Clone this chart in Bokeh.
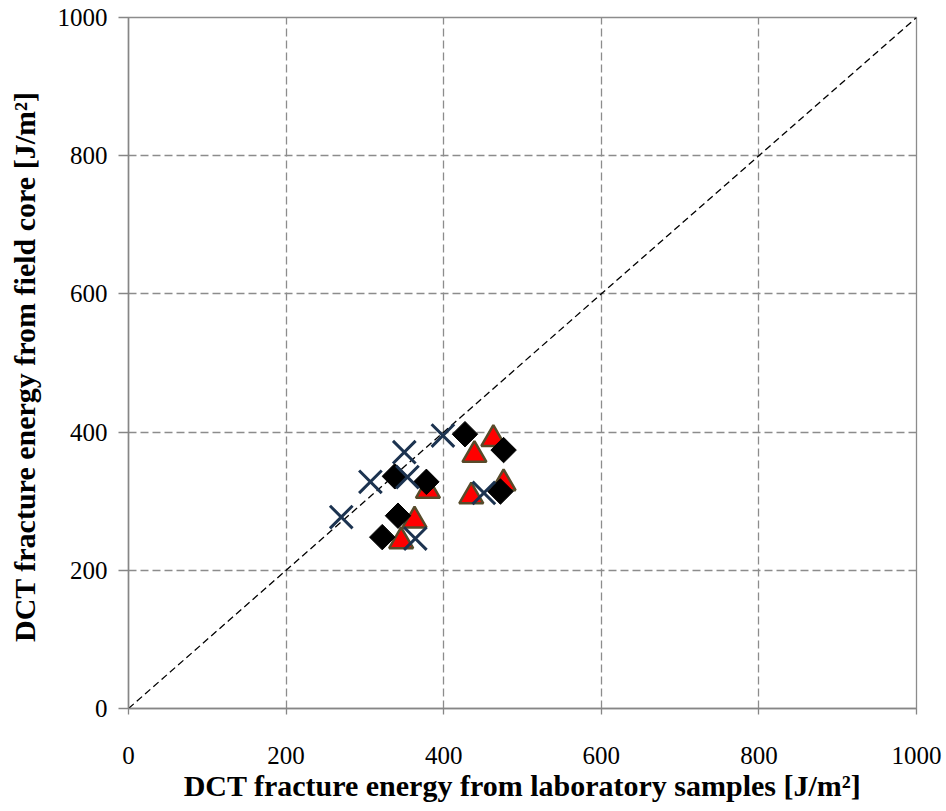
import numpy as np
from bokeh.plotting import figure
from bokeh.models import Range1d, FixedTicker
from bokeh.embed import file_html
from bokeh.resources import INLINE

# Series 1: crosses
cross_lab = [270, 307, 350, 354, 399, 364, 451]
cross_field = [277, 328, 371, 335, 395, 246, 312]
# Series 2: diamonds
dia_lab = [322, 342, 338, 378, 427, 476, 472]
dia_field = [248, 279, 336, 328, 397, 374, 314]
# Series 3: triangles
tri_lab = [346, 363, 380, 439, 463, 435, 476]
tri_field = [242, 272, 315, 367, 390, 307, 326]
# Line of equality
eq_x = [0, 1000]
eq_y = [0, 1000]

ticks = [0, 200, 400, 600, 800, 1000]
FONT = "Liberation Serif"

p = figure(width=946, height=811, output_backend="svg", toolbar_location=None,
           x_range=Range1d(0, 1000), y_range=Range1d(0, 1000),
           min_border_left=128, min_border_right=30, min_border_top=17,
           min_border_bottom=103)
p.background_fill_color = "white"
p.border_fill_color = "white"
p.outline_line_color = "#8c8c8c"
p.outline_line_width = 1.3

for ax in (p.xaxis, p.yaxis):
    ax.ticker = FixedTicker(ticks=ticks)
    ax.minor_tick_line_color = None
    ax.major_tick_in = 0
    ax.axis_line_color = "#868686"
    ax.axis_line_width = 1.5
    ax.major_tick_line_color = "#868686"
    ax.major_tick_line_width = 1.3
    ax.major_label_text_font = FONT
    ax.major_label_text_font_size = "25px"
    ax.major_label_text_color = "black"
    ax.axis_label_text_font = FONT
    ax.axis_label_text_font_size = "30px"
    ax.axis_label_text_font_style = "bold"
    ax.axis_label_text_color = "black"

p.xaxis.major_tick_out = 6
p.yaxis.major_tick_out = 10
p.xaxis.major_label_standoff = 32
p.yaxis.major_label_standoff = 11
p.xaxis.axis_label = "DCT fracture energy from laboratory samples [J/m\u00b2]"
p.yaxis.axis_label = "DCT fracture energy  from field core [J/m\u00b2]"
p.xaxis.axis_label_standoff = 2
p.yaxis.axis_label_standoff = 14

for g in (p.xgrid, p.ygrid):
    g.ticker = FixedTicker(ticks=ticks)
    g.grid_line_color = "#8c8c8c"
    g.grid_line_width = 1.3
    g.grid_line_dash = "8 4"

p.line(eq_x, eq_y, line_color="black", line_width=1.3, line_dash="7 4")

p.scatter(tri_lab, tri_field, marker="triangle", size=24, fill_color="#ff0000",
          line_color="#574b2a", line_width=2.5)
p.scatter(dia_lab, dia_field, marker="square", angle=np.pi / 4, size=18,
          fill_color="black", line_color="black", line_width=1)
p.scatter(cross_lab, cross_field, marker="x", size=32, line_color="#1c3350",
          line_width=3)

open("out.html", "w").write(file_html(p, INLINE))
